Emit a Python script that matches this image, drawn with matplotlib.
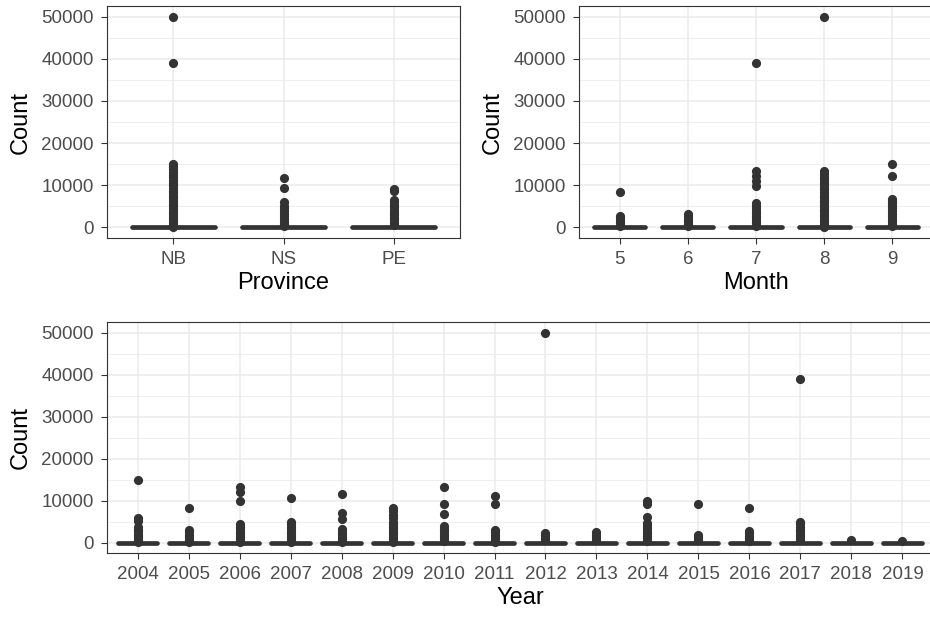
import matplotlib
matplotlib.use("Agg")
import matplotlib.pyplot as plt
from matplotlib.ticker import MultipleLocator

plt.rcParams['font.family'] = ['Liberation Sans', 'DejaVu Sans']

# ---- data: boxes collapse at zero, only the outliers stand out ----
provinces = ["NB", "NS", "PE"]
province_outliers = [
    [50000, 39000, 15000, 14400, 13800, 13100, 12500, 11900, 11200, 10600,
     10000, 9400, 8700, 8100, 7500, 6900, 6200, 5600, 5000, 4400, 3700,
     3100, 2500, 1900, 1300, 700, 200],
    [11800, 9300, 6000, 5200, 4500, 3900, 3200, 2600, 2000, 1400, 800, 300],
    [9200, 8700, 6600, 6000, 5400, 4800, 4100, 3500, 2900, 2300, 1700,
     1100, 500],
]

months = ["5", "6", "7", "8", "9"]
month_outliers = [
    [8300, 2700, 2200, 1600, 1000, 400],
    [3300, 2700, 2100, 1500, 900, 300],
    [38900, 13300, 12100, 11000, 9800, 5800, 5200, 4600, 4000, 3400, 2800,
     2200, 1600, 1000, 400],
    [50000, 13300, 12700, 12000, 11400, 10800, 10200, 9600, 9000, 8400,
     7800, 7200, 6600, 6000, 5400, 4800, 4200, 3600, 3000, 2400, 1800,
     1200, 600, 200],
    [15000, 12300, 6800, 6300, 5700, 5100, 4500, 3900, 3300, 2700, 2100,
     1500, 900, 300],
]

years = ["2004", "2005", "2006", "2007", "2008", "2009", "2010", "2011",
         "2012", "2013", "2014", "2015", "2016", "2017", "2018", "2019"]
year_outliers = [
    [15000, 5900, 5200, 3600, 3000, 2400, 1800, 1200, 600, 200],
    [8200, 3000, 2400, 1800, 1200, 600, 200],
    [13300, 12100, 9900, 4400, 3800, 3200, 2600, 2000, 1400, 800, 200],
    [10600, 5000, 4400, 3800, 3200, 2600, 2000, 1400, 800, 200],
    [11600, 7000, 5600, 3200, 2600, 2000, 1400, 800, 200],
    [8200, 7500, 6600, 5900, 5000, 4500, 3800, 3200, 2600, 2000, 1400,
     800, 200],
    [13300, 9100, 6800, 3900, 3300, 2700, 2100, 1500, 900, 300],
    [11100, 9100, 3000, 2400, 1800, 1200, 600, 200],
    [50000, 2300, 1700, 1100, 500],
    [2400, 1800, 1200, 600],
    [10000, 9100, 6100, 4600, 4000, 3400, 2800, 2200, 1600, 1000, 400],
    [9100, 1800, 1200, 600],
    [8300, 2800, 2200, 1600, 1000, 400],
    [39000, 5000, 4300, 3600, 3000, 2400, 1800, 1200, 600],
    [500],
    [400],
]

DARK = "#333333"
GRID = "#EBEBEB"
W, H = 930, 617


def panel(rect_px):
    left, top, right, bottom = rect_px
    return fig.add_axes([left / W, (H - bottom) / H,
                         (right - left) / W, (bottom - top) / H])


def draw_box(ax, labels, outliers, xlabel):
    stats = [dict(med=0, q1=0, q3=0, whislo=0, whishi=0, fliers=f)
             for f in outliers]
    pos = list(range(1, len(labels) + 1))
    ax.bxp(stats, positions=pos, widths=0.75, showcaps=False,
           boxprops=dict(color=DARK, lw=2.0),
           whiskerprops=dict(color=DARK, lw=1.0),
           medianprops=dict(color=DARK, lw=3.4, solid_capstyle="round"),
           flierprops=dict(marker="o", markersize=6.6, markerfacecolor=DARK,
                           markeredgewidth=0, linestyle="none"))
    ax.set_xlim(0.4, len(labels) + 0.6)
    ax.set_ylim(-2500, 52500)
    ax.set_xticks(pos)
    ax.set_xticklabels(labels)
    ax.yaxis.set_major_locator(MultipleLocator(10000))
    ax.yaxis.set_minor_locator(MultipleLocator(5000))
    ax.set_axisbelow(True)
    ax.grid(True, which="major", color=GRID, lw=1.1)
    ax.grid(True, which="minor", axis="y", color=GRID, lw=0.6)
    ax.tick_params(which="major", length=4.5, width=0.8, color=DARK,
                   labelcolor="#4D4D4D", labelsize=13.5)
    ax.tick_params(axis="x", pad=4.6)
    ax.tick_params(axis="y", pad=5.0)
    ax.tick_params(which="minor", length=0)
    for s in ax.spines.values():
        s.set_color(DARK)
        s.set_linewidth(0.8)
    ax.set_xlabel(xlabel, fontsize=17, labelpad=3)
    ax.set_ylabel("Count", fontsize=17, labelpad=7)


fig = plt.figure(figsize=(9.3, 6.17), dpi=100)

ax1 = panel((107, 6, 460, 238))
draw_box(ax1, provinces, province_outliers, "Province")

ax2 = panel((579, 6, 933, 238))
draw_box(ax2, months, month_outliers, "Month")

ax3 = panel((107, 322, 933, 553))
draw_box(ax3, years, year_outliers, "Year")

fig.savefig("out.png", dpi=100)
